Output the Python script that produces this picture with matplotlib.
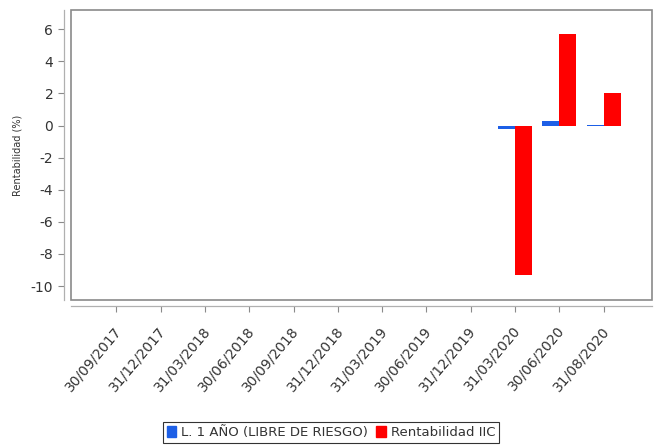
import numpy as np
import matplotlib
matplotlib.use("Agg")
import matplotlib.pyplot as plt
from matplotlib.patches import Rectangle, Patch
from matplotlib.transforms import ScaledTranslation

plt.rcParams['axes.unicode_minus'] = False

# quarterly dates and returns (%)
fechas = ['30/09/2017', '31/12/2017', '31/03/2018', '30/06/2018', '30/09/2018',
          '31/12/2018', '31/03/2019', '30/06/2019', '31/12/2019', '31/03/2020',
          '30/06/2020', '31/08/2020']
letra_1_ano = [np.nan] * 9 + [-0.2, 0.3, 0.04]
rentabilidad_iic = [np.nan] * 9 + [-9.3, 5.73, 2.04]

AZUL = '#1d5fe6'
ROJO = '#ff0000'
GRIS = '#8a8a8a'
TEXTO = '#333333'

fig = plt.figure(figsize=(6.57, 4.46), dpi=100)
ax = fig.add_axes([0.1076, 0.3274, 0.8848, 0.6502])

# plot frame plus axis lines pushed outward (set before ticks: this resets them)
for s in ax.spines.values():
    s.set_visible(False)
ax.add_patch(Rectangle((0, 0), 1, 1, transform=ax.transAxes, fill=False,
                       edgecolor=GRIS, linewidth=1.2, clip_on=False))
for side, dist in (('left', 5), ('bottom', 4)):
    sp = ax.spines[side]
    sp.set_visible(True)
    sp.set_position(('outward', dist))
    sp.set_color('#b0b0b0')
    sp.set_linewidth(0.9)

x = np.arange(len(fechas))
w = 0.385
ax.bar(x - w / 2, letra_1_ano, w, color=AZUL, linewidth=0)
ax.bar(x + w / 2, rentabilidad_iic, w, color=ROJO, linewidth=0)

ax.set_xlim(-1.03, 12.09)
ax.set_ylim(-10.87, 7.2)
ax.tick_params(color=GRIS, labelcolor=TEXTO, length=4, width=0.8)
ax.tick_params(axis='x', pad=9, labelsize=10)
ax.tick_params(axis='y', labelsize=10)
ax.set_yticks(range(-10, 7, 2))
ax.set_xticks(x)
ax.set_xticklabels(fechas, rotation=50, ha='right')
off = ScaledTranslation(8 / 100, 0, fig.dpi_scale_trans)
for lbl in ax.get_xticklabels():
    lbl.set_transform(lbl.get_transform() + off)

ax.set_ylabel('Rentabilidad (%)', fontsize=7, color=TEXTO, labelpad=6)

handles = [Patch(color=AZUL, label='L. 1 AÑO (LIBRE DE RIESGO)'),
           Patch(color=ROJO, label='Rentabilidad IIC')]
leg = fig.legend(handles=handles, loc='center', bbox_to_anchor=(0.504, 0.031),
                 ncol=2, fontsize=9.5, handlelength=0.7, handleheight=0.9,
                 handletextpad=0.4, columnspacing=0.6, fancybox=False,
                 borderpad=0.3, frameon=True)
leg.get_frame().set_edgecolor('black')
leg.get_frame().set_linewidth(0.8)
for t in leg.get_texts():
    t.set_color(TEXTO)

fig.savefig('out.png', dpi=100)
